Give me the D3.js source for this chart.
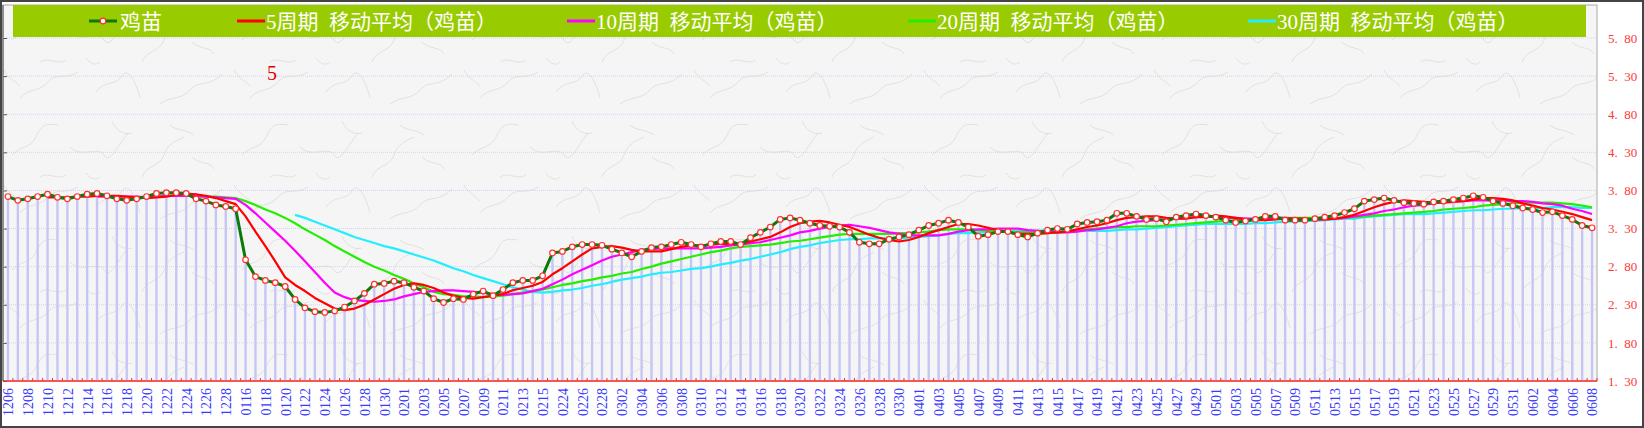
<!DOCTYPE html>
<html>
<head>
<meta charset="utf-8">
<script src="https://cdn.jsdelivr.net/npm/d3@7"></script>
<style>
  html, body { margin: 0; padding: 0; background: #fff; }
  svg { display: block; font-family: "Liberation Serif", "Noto Sans CJK SC", serif; }
</style>
</head>
<body>
<svg id="chart"></svg>
<script>
const width = 1644;
const height = 428;
const plot = { left: 3, right: 1597, top: 5, bottom: 381 };

// categories (one per day, every second one is labelled)
const dates = [
  "1206","1207","1208","1209","1210","1211","1212","1213","1214","1215",
  "1216","1217","1218","1219","1220","1221","1222","1223","1224","1225",
  "1226","1227","1228","1229","0116","0117","0118","0119","0120","0121",
  "0122","0123","0124","0125","0126","0127","0128","0129","0130","0131",
  "0201","0202","0203","0204","0205","0206","0207","0208","0209","0210",
  "0211","0212","0213","0214","0215","0216","0224","0225","0226","0227",
  "0228","0301","0302","0303","0304","0305","0306","0307","0308","0309",
  "0310","0311","0312","0313","0314","0315","0316","0317","0318","0319",
  "0320","0321","0322","0323","0324","0325","0326","0327","0328","0329",
  "0330","0331","0401","0402","0403","0404","0405","0406","0407","0408",
  "0409","0410","0411","0412","0413","0414","0415","0416","0417","0418",
  "0419","0420","0421","0422","0423","0424","0425","0426","0427","0428",
  "0429","0430","0501","0502","0503","0504","0505","0506","0507","0508",
  "0509","0510","0511","0512","0513","0514","0515","0516","0517","0518",
  "0519","0520","0521","0522","0523","0524","0525","0526","0527","0528",
  "0529","0530","0531","0601","0602","0603","0604","0605","0606","0607",
  "0608"
];

// 鸡苗 price
const price = [
  3.72,3.67,3.69,3.72,3.75,3.71,3.69,3.72,3.75,3.76,
  3.73,3.69,3.67,3.69,3.72,3.76,3.77,3.77,3.76,3.69,
  3.66,3.61,3.59,3.56,2.89,2.67,2.62,2.59,2.54,2.37,
  2.26,2.21,2.20,2.22,2.27,2.35,2.45,2.57,2.58,2.61,
  2.59,2.53,2.48,2.38,2.33,2.38,2.37,2.44,2.48,2.42,
  2.50,2.59,2.62,2.62,2.68,2.98,3.00,3.06,3.09,3.09,
  3.08,3.03,2.98,2.93,3.00,3.05,3.06,3.09,3.12,3.09,
  3.06,3.10,3.13,3.13,3.09,3.18,3.25,3.32,3.42,3.44,
  3.41,3.37,3.34,3.33,3.32,3.25,3.12,3.10,3.10,3.16,
  3.19,3.22,3.28,3.34,3.37,3.41,3.38,3.32,3.20,3.22,
  3.26,3.26,3.22,3.19,3.24,3.28,3.30,3.29,3.36,3.38,
  3.39,3.41,3.50,3.50,3.46,3.42,3.43,3.39,3.45,3.47,
  3.49,3.47,3.45,3.41,3.38,3.40,3.42,3.46,3.46,3.41,
  3.41,3.41,3.43,3.45,3.47,3.51,3.56,3.66,3.68,3.70,
  3.67,3.64,3.63,3.62,3.65,3.66,3.68,3.70,3.73,3.71,
  3.66,3.63,3.60,3.57,3.55,3.51,3.52,3.47,3.42,3.34,
  3.31
];

// moving averages (each ends on the last category)
const ma5 = [
  3.71,3.71,3.71,3.72,3.72,3.73,3.73,3.73,3.72,3.71,
  3.70,3.71,3.72,3.74,3.76,3.75,3.73,3.70,3.66,3.62,
  3.46,3.26,3.07,2.87,2.66,2.56,2.48,2.39,2.32,2.25,
  2.23,2.25,2.30,2.37,2.44,2.51,2.56,2.58,2.56,2.52,
  2.46,2.42,2.39,2.38,2.40,2.42,2.44,2.49,2.52,2.55,
  2.60,2.70,2.78,2.87,2.96,3.04,3.06,3.07,3.05,3.02,
  3.00,3.00,3.00,3.03,3.06,3.08,3.08,3.09,3.10,3.10,
  3.10,3.13,3.16,3.19,3.25,3.32,3.37,3.39,3.40,3.38,
  3.35,3.32,3.27,3.22,3.18,3.15,3.13,3.15,3.19,3.24,
  3.28,3.32,3.36,3.36,3.34,3.31,3.28,3.25,3.23,3.23,
  3.23,3.24,3.25,3.26,3.29,3.32,3.34,3.37,3.41,3.44,
  3.45,3.46,3.46,3.44,3.43,3.43,3.45,3.45,3.47,3.46,
  3.44,3.42,3.41,3.41,3.42,3.43,3.43,3.43,3.42,3.42,
  3.43,3.45,3.48,3.53,3.58,3.62,3.65,3.67,3.66,3.65,
  3.64,3.64,3.65,3.66,3.68,3.70,3.70,3.69,3.67,3.63,
  3.60,3.57,3.55,3.52,3.49,3.45,3.41
];
const ma10 = [
  3.72,3.72,3.72,3.72,3.72,3.71,3.72,3.73,3.73,3.73,
  3.73,3.72,3.71,3.70,3.69,3.61,3.50,3.38,3.26,3.14,
  3.01,2.87,2.73,2.59,2.46,2.40,2.36,2.35,2.34,2.35,
  2.37,2.41,2.44,2.47,2.48,2.49,2.49,2.48,2.47,2.46,
  2.44,2.43,2.44,2.45,2.48,2.51,2.57,2.63,2.70,2.76,
  2.82,2.88,2.93,2.96,2.99,3.02,3.03,3.04,3.04,3.04,
  3.04,3.04,3.05,3.06,3.08,3.09,3.11,3.12,3.15,3.18,
  3.21,3.25,3.27,3.30,3.32,3.34,3.35,3.33,3.31,3.28,
  3.25,3.23,3.21,3.21,3.21,3.21,3.23,3.26,3.28,3.29,
  3.29,3.30,3.30,3.30,3.28,3.27,3.26,3.25,3.25,3.26,
  3.28,3.29,3.31,3.33,3.37,3.39,3.40,3.41,3.42,3.43,
  3.44,3.45,3.46,3.45,3.44,3.44,3.43,3.43,3.44,3.44,
  3.44,3.43,3.42,3.42,3.42,3.43,3.44,3.46,3.48,3.50,
  3.53,3.55,3.58,3.60,3.61,3.63,3.65,3.66,3.66,3.67,
  3.67,3.67,3.67,3.66,3.66,3.65,3.63,3.62,3.60,3.56,
  3.53,3.49
];
const ma20 = [
  3.72,3.72,3.72,3.71,3.70,3.66,3.61,3.55,3.50,3.44,
  3.37,3.29,3.22,3.15,3.07,3.00,2.93,2.86,2.80,2.75,
  2.69,2.64,2.58,2.53,2.47,2.44,2.43,2.41,2.41,2.40,
  2.41,2.42,2.44,2.46,2.48,2.50,2.53,2.56,2.58,2.61,
  2.63,2.66,2.68,2.71,2.73,2.77,2.80,2.84,2.87,2.90,
  2.93,2.96,2.99,3.01,3.04,3.06,3.07,3.08,3.09,3.11,
  3.13,3.14,3.16,3.18,3.20,3.22,3.23,3.23,3.23,3.23,
  3.23,3.24,3.24,3.25,3.26,3.28,3.29,3.29,3.29,3.28,
  3.27,3.26,3.26,3.25,3.25,3.24,3.24,3.25,3.26,3.27,
  3.29,3.30,3.31,3.32,3.32,3.33,3.33,3.33,3.34,3.35,
  3.36,3.37,3.38,3.39,3.40,3.41,3.42,3.42,3.43,3.44,
  3.44,3.44,3.44,3.44,3.43,3.43,3.44,3.45,3.46,3.47,
  3.48,3.49,3.50,3.51,3.52,3.53,3.55,3.56,3.57,3.58,
  3.60,3.61,3.62,3.63,3.64,3.64,3.64,3.64,3.63,3.62,
  3.60,3.58
];
const ma30 = [
  3.48,3.44,3.39,3.34,3.29,3.24,3.19,3.15,3.11,3.07,
  3.04,3.00,2.96,2.92,2.88,2.83,2.78,2.74,2.69,2.65,
  2.61,2.57,2.53,2.50,2.47,2.46,2.47,2.49,2.50,2.52,
  2.55,2.57,2.60,2.63,2.65,2.67,2.70,2.72,2.73,2.75,
  2.77,2.78,2.80,2.83,2.85,2.88,2.90,2.93,2.96,2.99,
  3.03,3.06,3.08,3.11,3.13,3.15,3.16,3.16,3.17,3.17,
  3.17,3.17,3.18,3.19,3.20,3.21,3.23,3.24,3.24,3.25,
  3.25,3.26,3.26,3.27,3.27,3.27,3.28,3.28,3.28,3.28,
  3.27,3.27,3.27,3.28,3.29,3.29,3.30,3.31,3.32,3.33,
  3.34,3.35,3.36,3.36,3.36,3.36,3.36,3.37,3.37,3.38,
  3.39,3.39,3.40,3.40,3.41,3.42,3.43,3.43,3.45,3.46,
  3.47,3.48,3.49,3.49,3.49,3.50,3.51,3.52,3.53,3.54,
  3.54,3.55,3.56,3.56,3.57,3.57,3.57,3.58,3.58,3.58,
  3.57,3.57
];

const yTicks = [1.3, 1.8, 2.3, 2.8, 3.3, 3.8, 4.3, 4.8, 5.3, 5.8];

const maSeries = [
  { name: "5周期 移动平均（鸡苗）", values: ma5, color: "#ff0000", lx: 237 },
  { name: "10周期 移动平均（鸡苗）", values: ma10, color: "#ff00ff", lx: 567 },
  { name: "20周期 移动平均（鸡苗）", values: ma20, color: "#22ee00", lx: 908 },
  { name: "30周期 移动平均（鸡苗）", values: ma30, color: "#22eeff", lx: 1248 },
];

const svg = d3.select("#chart").attr("width", width).attr("height", height);
const defs = svg.append("defs");

// paper-like texture for the plot background
const pat = defs.append("pattern")
  .attr("id", "paper")
  .attr("patternUnits", "userSpaceOnUse")
  .attr("width", 230)
  .attr("height", 115);
pat.append("rect").attr("width", 230).attr("height", 115).attr("fill", "#f6f5f5");
[
  "M12,40 C22,30 30,34 36,22 S44,8 58,10",
  "M70,32 C82,44 98,30 104,40 S118,30 128,18",
  "M142,62 C146,50 160,52 164,40 S176,26 184,22",
  "M20,98 C28,88 40,92 48,82 S66,80 78,72",
  "M96,92 C104,80 116,86 122,76 S136,82 140,98",
  "M160,104 C170,96 182,100 190,90 S208,88 222,74",
  "M192,42 C200,50 210,46 214,54",
  "M40,62 C48,56 58,66 66,60",
  "M112,6 C116,16 124,20 132,18",
  "M4,70 C8,78 14,80 20,86",
  "M86,58 C90,64 96,66 100,62",
  "M170,10 C176,16 186,14 194,20",
].forEach((p) =>
  pat.append("path").attr("d", p).attr("fill", "none")
    .attr("stroke", "#d8d6d6").attr("stroke-width", 0.7)
);

const x = d3.scalePoint()
  .domain(dates)
  .range([plot.left, plot.right])
  .padding(0.5);
const y = d3.scaleLinear()
  .domain([1.3, 5.8])
  .range([plot.bottom, 38]);

// outer frame
svg.append("rect")
  .attr("x", 1).attr("y", 1)
  .attr("width", width - 2).attr("height", height - 2)
  .attr("fill", "#fff").attr("stroke", "#444").attr("stroke-width", 2);

// plot area
svg.append("rect")
  .attr("x", plot.left).attr("y", plot.top)
  .attr("width", plot.right - plot.left).attr("height", plot.bottom - plot.top)
  .attr("fill", "url(#paper)")
  .attr("stroke", "#a8a8a8").attr("stroke-width", 1);
svg.append("line")
  .attr("x1", plot.left).attr("x2", plot.left)
  .attr("y1", plot.top).attr("y2", plot.bottom)
  .attr("stroke", "#777").attr("stroke-width", 1.5);

// horizontal grid
svg.append("g")
  .selectAll("line")
  .data(yTicks.slice(1))
  .join("line")
  .attr("x1", plot.left).attr("x2", plot.right)
  .attr("y1", (d) => y(d)).attr("y2", (d) => y(d))
  .attr("stroke", "#d2d2f2").attr("stroke-width", 1)
  .attr("stroke-dasharray", "1,1");

// left axis ticks (inside)
svg.append("g")
  .attr("transform", `translate(${plot.left},0)`)
  .call(d3.axisRight(y).tickValues(yTicks).tickSize(4).tickFormat(""))
  .call((g) => g.select(".domain").remove())
  .call((g) => g.selectAll("line").attr("stroke", "#555"));

// drop bars for each day
svg.append("g")
  .selectAll("rect")
  .data(price.map((v, i) => ({ date: dates[i], v })))
  .join("rect")
  .attr("x", (d) => x(d.date) - 1.2)
  .attr("width", 2.4)
  .attr("y", (d) => y(d.v))
  .attr("height", (d) => y(1.3) - y(d.v))
  .attr("fill", "#c6c6f6");

// bottom axis line + red ticks at band edges
svg.append("line")
  .attr("x1", plot.left).attr("x2", plot.right)
  .attr("y1", plot.bottom).attr("y2", plot.bottom)
  .attr("stroke", "#ff3030").attr("stroke-width", 1.5);
svg.append("g")
  .selectAll("line")
  .data(dates)
  .join("line")
  .attr("x1", (d) => x(d) + x.step() / 2)
  .attr("x2", (d) => x(d) + x.step() / 2)
  .attr("y1", plot.bottom).attr("y2", plot.bottom - 3)
  .attr("stroke", "#ff3030").attr("stroke-width", 1);

// x labels
svg.append("g")
  .attr("transform", `translate(0,${plot.bottom})`)
  .call(d3.axisBottom(x).tickValues(dates.filter((d, i) => i % 2 === 0)).tickSize(0))
  .call((g) => g.select(".domain").remove())
  .call((g) => g.selectAll("text")
    .attr("transform", "rotate(-90)")
    .attr("x", -7).attr("y", 0).attr("dy", "0.35em")
    .attr("text-anchor", "end")
    .attr("fill", "#3a3aff")
    .style("font-family", "'Liberation Serif', serif")
    .style("font-size", "14px"));

// y labels on the right
svg.append("g")
  .attr("transform", `translate(${plot.right},0)`)
  .call(d3.axisRight(y).tickValues(yTicks).tickSize(0).tickPadding(11)
    .tickFormat((d) => d3.format(".2f")(d).replace(".", ".\u2002")))
  .call((g) => g.select(".domain").remove())
  .call((g) => g.selectAll("text")
    .attr("fill", "#ff3838")
    .style("font-family", "'Liberation Serif', serif")
    .style("font-size", "13px"));

// moving average lines
const line = d3.line()
  .x((d) => x(d.date))
  .y((d) => y(d.v));
maSeries.slice().reverse().forEach((s) => {
  const off = dates.length - s.values.length;
  svg.append("path")
    .datum(s.values.map((v, i) => ({ date: dates[i + off], v })))
    .attr("fill", "none")
    .attr("stroke", s.color)
    .attr("stroke-width", 2.2)
    .attr("stroke-linejoin", "round")
    .attr("d", line);
});

// price line with markers
const priceData = price.map((v, i) => ({ date: dates[i], v }));
svg.append("path")
  .datum(priceData)
  .attr("fill", "none")
  .attr("stroke", "#0a7a0a")
  .attr("stroke-width", 3)
  .attr("stroke-linejoin", "round")
  .attr("d", line);
svg.append("g")
  .selectAll("circle")
  .data(priceData)
  .join("circle")
  .attr("cx", (d) => x(d.date))
  .attr("cy", (d) => y(d.v))
  .attr("r", 2.8)
  .attr("fill", "#fff")
  .attr("stroke", "#ff3030")
  .attr("stroke-width", 1.2);

// legend band
const legend = svg.append("g");
legend.append("rect")
  .attr("x", 13).attr("y", 5)
  .attr("width", 1573).attr("height", 32)
  .attr("fill", "#99cc00");
legend.append("line")
  .attr("x1", 89).attr("x2", 117).attr("y1", 21).attr("y2", 21)
  .attr("stroke", "#0a7a0a").attr("stroke-width", 3);
legend.append("circle")
  .attr("cx", 103).attr("cy", 21).attr("r", 2.8)
  .attr("fill", "#fff").attr("stroke", "#ff3030").attr("stroke-width", 1.2);
legend.append("text")
  .attr("x", 120).attr("y", 29)
  .attr("fill", "#fff").style("font-size", "21px")
  .text("鸡苗");
maSeries.forEach((s) => {
  legend.append("line")
    .attr("x1", s.lx).attr("x2", s.lx + 28).attr("y1", 21).attr("y2", 21)
    .attr("stroke", s.color).attr("stroke-width", 3);
  legend.append("text")
    .attr("x", s.lx + 29).attr("y", 29)
    .attr("fill", "#fff").style("font-size", "21px")
    .text(s.name.replace(" ", "\u2002"));
});

// annotation
svg.append("text")
  .attr("x", 272).attr("y", 80)
  .attr("text-anchor", "middle")
  .attr("fill", "#e00000")
  .style("font-size", "20px")
  .text("5");
</script>
</body>
</html>
